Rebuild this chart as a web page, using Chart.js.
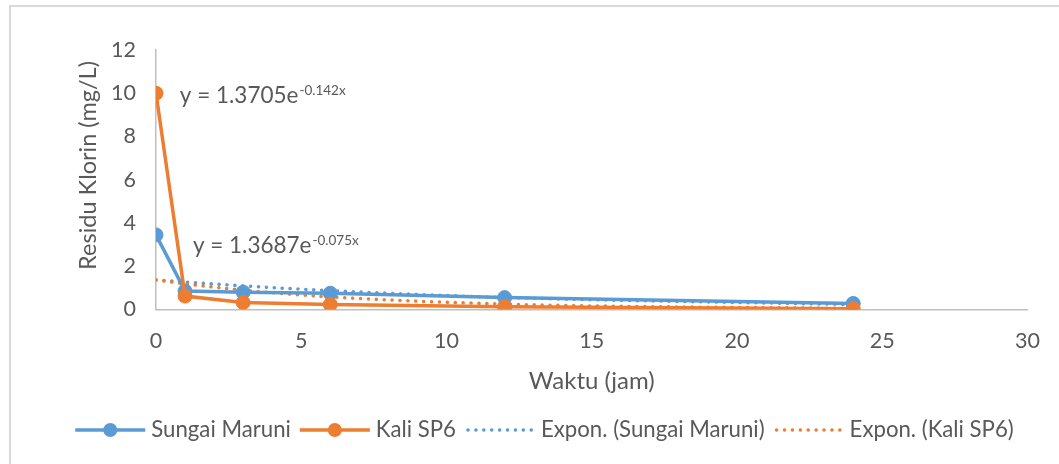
<!DOCTYPE html>
<html>
<head>
<meta charset="utf-8">
<script src="https://cdn.jsdelivr.net/npm/chart.js@4.4.1/dist/chart.umd.min.js"></script>
<style>
  html, body { margin: 0; padding: 0; background: #fff; overflow: hidden; }
  #wrap { position: relative; width: 1059px; height: 464px; }
  #frame { position: absolute; left: 9px; top: 5px; width: 1200px; height: 700px;
           border: 2px solid #d9d9d9; box-sizing: border-box; }
  canvas { position: absolute; left: 0; top: 0; }
</style>
</head>
<body>
<div id="wrap">
  <div id="frame"></div>
  <canvas id="c" width="1059" height="464"></canvas>
</div>
<script>
// Sampling times (hours) and residual chlorine (mg/L)
const hours = [0, 1, 3, 6, 12, 24];
const sungaiMaruni = [3.45, 0.85, 0.8, 0.75, 0.55, 0.28];
const kaliSP6 = [10, 0.62, 0.32, 0.23, 0.13, 0.03];
const seriesNames = ['Sungai Maruni', 'Kali SP6'];
const seriesColors = ['#5b9bd5', '#ed7d31'];

// Exponential trend fits: y = a * e^(b x)
const trendA = [1.3687, 1.3705];
const trendB = [-0.075, -0.142];

const xTicks = [0, 5, 10, 15, 20, 25, 30];
const yTicks = [0, 2, 4, 6, 8, 10, 12];

const xTitle = 'Waktu (jam)';
const yTitle = 'Residu Klorin (mg/L)';

const FONT = 'Lato, "Open Sans", sans-serif';
const TEXT = '#595959';
const AXIS = '#bfbfbf';

const toPoints = (ys) => hours.map((h, i) => ({ x: h, y: ys[i] }));
const trendPoints = (k) => hours.map(h => ({ x: h, y: trendA[k] * Math.exp(trendB[k] * h) }));

const seriesData = [sungaiMaruni, kaliSP6];

const datasets = [
  ...seriesData.map((ys, k) => ({
    label: seriesNames[k],
    data: toPoints(ys),
    borderColor: seriesColors[k],
    backgroundColor: seriesColors[k],
    borderWidth: 3.5,
    pointRadius: 7,
    pointHoverRadius: 7,
    pointBorderWidth: 1,
    pointBackgroundColor: seriesColors[k],
    pointBorderColor: seriesColors[k],
    showLine: true,
    tension: 0,
    order: 1 - k,
    kind: 'series'
  })),
  ...seriesData.map((ys, k) => ({
    label: 'Expon. (' + seriesNames[k] + ')',
    data: trendPoints(k),
    borderColor: seriesColors[k],
    backgroundColor: seriesColors[k],
    borderWidth: 3.5,
    borderDash: [0.1, 7.8],
    borderCapStyle: 'round',
    pointRadius: 0,
    pointHoverRadius: 0,
    showLine: true,
    cubicInterpolationMode: 'monotone',
    order: 3 - k,
    kind: 'trend'
  }))
];

// Trend equations with superscript exponent, anchored in data units
const equationLabels = [
  { k: 1, x: 0.82, y: 9.53 },
  { k: 0, x: 1.27, y: 2.61 }
];

const equationPlugin = {
  id: 'equations',
  afterDatasetsDraw(chart) {
    const { ctx, scales } = chart;
    ctx.save();
    ctx.fillStyle = TEXT;
    ctx.textBaseline = 'alphabetic';
    ctx.textAlign = 'left';
    equationLabels.forEach(lab => {
      const px = scales.x.getPixelForValue(lab.x);
      const py = scales.y.getPixelForValue(lab.y);
      const main = 'y = ' + trendA[lab.k].toFixed(4) + 'e';
      const sup = trendB[lab.k].toFixed(3) + 'x';
      ctx.font = '22.5px ' + FONT;
      ctx.fillText(main, px, py);
      const w = ctx.measureText(main).width;
      ctx.font = '13.5px ' + FONT;
      ctx.fillText(sup, px + w + 1, py - 8);
    });
    ctx.restore();
  }
};

// Rotated value-axis title
const yTitlePlugin = {
  id: 'yTitle',
  afterDraw(chart) {
    const { ctx, chartArea } = chart;
    ctx.save();
    ctx.fillStyle = TEXT;
    ctx.font = '23.5px ' + FONT;
    ctx.textAlign = 'center';
    ctx.textBaseline = 'middle';
    ctx.translate(88, chartArea.top + (chartArea.bottom - chartArea.top) * 0.445);
    ctx.rotate(-Math.PI / 2);
    ctx.fillText(yTitle, 0, 0);
    ctx.restore();
  }
};

// Legend with line samples (marker line / dotted trend)
const legendPlugin = {
  id: 'lineLegend',
  afterDraw(chart) {
    const { ctx } = chart;
    const sampleW = 70, gap = 6, itemGap = 9;
    const cy = 430;
    ctx.save();
    ctx.font = '22.2px ' + FONT;
    const items = chart.data.datasets.map(ds => ({ ds, tw: ctx.measureText(ds.label).width }));
    const total = items.reduce((s, it) => s + sampleW + gap + it.tw, 0) + itemGap * (items.length - 1);
    let x = chart.width / 2 + 15 - total / 2;
    items.forEach(({ ds, tw }) => {
      ctx.strokeStyle = ds.borderColor;
      ctx.fillStyle = ds.borderColor;
      if (ds.kind === 'series') {
        ctx.lineWidth = 3.5;
        ctx.setLineDash([]);
        ctx.lineCap = 'butt';
        ctx.beginPath();
        ctx.moveTo(x, cy);
        ctx.lineTo(x + sampleW, cy);
        ctx.stroke();
        ctx.beginPath();
        ctx.arc(x + sampleW / 2, cy, 7, 0, Math.PI * 2);
        ctx.fill();
      } else {
        ctx.lineWidth = 3.5;
        ctx.lineCap = 'round';
        ctx.setLineDash([0.1, 7.8]);
        ctx.beginPath();
        ctx.moveTo(x + 3, cy);
        ctx.lineTo(x + sampleW - 2, cy);
        ctx.stroke();
        ctx.setLineDash([]);
      }
      ctx.fillStyle = TEXT;
      ctx.textAlign = 'left';
      ctx.textBaseline = 'middle';
      ctx.fillText(ds.label, x + sampleW + gap, cy);
      x += sampleW + gap + tw + itemGap;
    });
    ctx.restore();
  }
};

new Chart(document.getElementById('c'), {
  type: 'scatter',
  data: { datasets },
  plugins: [equationPlugin, yTitlePlugin, legendPlugin],
  options: {
    responsive: false,
    animation: false,
    layout: { padding: { left: 75, right: 23, top: 50, bottom: 64.5 } },
    plugins: {
      legend: { display: false },
      tooltip: { enabled: false }
    },
    scales: {
      x: {
        type: 'linear',
        min: xTicks[0],
        max: xTicks[xTicks.length - 1],
        afterBuildTicks: (s) => { s.ticks = xTicks.map(v => ({ value: v })); },
        grid: { display: false, drawTicks: false },
        border: { display: true, color: AXIS, width: 1.5 },
        ticks: { color: TEXT, font: { family: FONT, size: 21.5 }, padding: 19, maxRotation: 0 },
        title: { display: true, text: xTitle, color: TEXT, font: { family: FONT, size: 24 }, padding: { top: 0, bottom: 4 } },
        afterFit: (s) => { s.height = 90; }
      },
      y: {
        type: 'linear',
        min: yTicks[0],
        max: yTicks[yTicks.length - 1],
        afterBuildTicks: (s) => { s.ticks = yTicks.map(v => ({ value: v })); },
        grid: { display: false, drawTicks: false },
        border: { display: true, color: AXIS, width: 1.5 },
        ticks: { color: TEXT, font: { family: FONT, size: 21.5 }, padding: 20 },
        afterFit: (s) => { s.width = 81; }
      }
    }
  }
});
</script>
</body>
</html>
